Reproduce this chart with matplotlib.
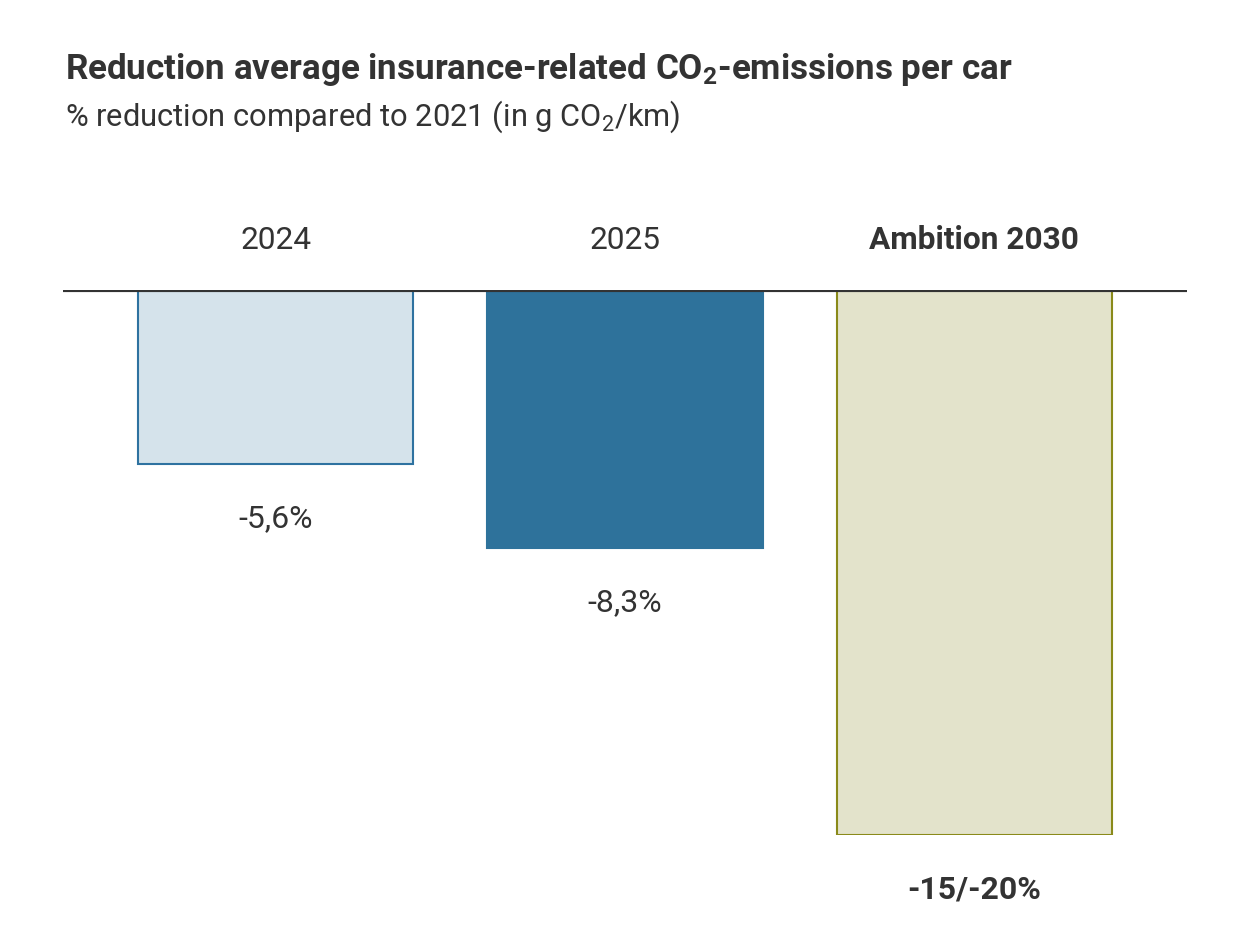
import numpy as np
import matplotlib
matplotlib.use("Agg")
import matplotlib.pyplot as plt

# === Data ===
categories = ["2024", "2025", "Ambition 2030"]
values = [-5.6, -8.3, -17.5]          # ambition drawn at middle of -15/-20 range
value_labels = ["-5,6%", "-8,3%", "-15/-20%"]
bold_flags = [False, False, True]

fill_colors = ["#d5e3eb", "#2e729b", "#e3e3cb"]
edge_colors = ["#2e72a0", "#2e729b", "#8a8a1a"]
TEXT = "#333333"

plt.rcParams["font.family"] = ["Roboto", "DejaVu Sans"]
plt.rcParams["mathtext.default"] = "regular"

fig = plt.figure(figsize=(12.5, 9.38), dpi=100)
ax = fig.add_axes([63 / 1250, 1 - 835 / 938, (1187 - 63) / 1250, (835 - 290) / 938])

x = np.arange(len(categories))
ax.bar(x, values, width=0.788, color=fill_colors, edgecolor=edge_colors,
       linewidth=1.5, zorder=2)
ax.axhline(0, color=TEXT, linewidth=3, zorder=3)

ax.set_xlim(-0.61, 2.61)
ax.set_ylim(-17.5, 0)
ax.axis("off")

for i, (cat, v, lab, b) in enumerate(zip(categories, values, value_labels, bold_flags)):
    w = "bold" if b else "normal"
    ax.annotate(cat, xy=(i, 0), xytext=(0, 36), textcoords="offset points",
                ha="center", va="center", fontsize=22.8, color=TEXT,
                fontweight=w, annotation_clip=False)
    ax.annotate(lab, xy=(i, v), xytext=(0, -39), textcoords="offset points",
                ha="center", va="center", fontsize=23, color=TEXT,
                fontweight=w, annotation_clip=False)

fig.text(65 / 1250, 1 - 70 / 938, "Reduction average insurance-related CO$_2$-emissions per car",
         fontsize=25.2, fontweight="bold", color=TEXT, ha="left", va="center")
fig.text(65 / 1250, 1 - 117 / 938, "% reduction compared to 2021 (in g CO$_2$/km)",
         fontsize=22.2, color=TEXT, ha="left", va="center")

fig.savefig("out.png", dpi=100, facecolor="white")
